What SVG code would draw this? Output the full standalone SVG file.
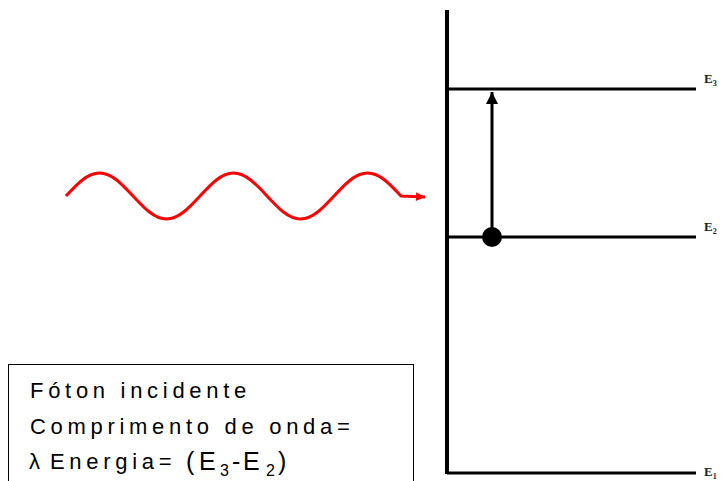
<svg xmlns="http://www.w3.org/2000/svg" width="724" height="481" viewBox="0 0 724 481">
<defs>
<style>
.ax{stroke:#000;stroke-width:4;fill:none}
.lvl{stroke:#000;stroke-width:3;fill:none}
.lbl{font-family:"Liberation Serif",serif;font-weight:bold;font-size:13px;fill:#222}
.sub{font-size:8px}
.txt{font-family:"Liberation Sans",Arial,sans-serif;font-size:22px;letter-spacing:4.7px;fill:#000}
.big{font-family:"Liberation Sans",Arial,sans-serif;font-size:25px;fill:#000}
.sm{font-family:"Liberation Sans",Arial,sans-serif;font-size:16px;fill:#000}
</style>
<marker id="ah" viewBox="0 0 10 10" refX="10" refY="5" markerWidth="4" markerHeight="4" orient="auto" markerUnits="strokeWidth"><path d="M0,0 L10,5 L0,10 z" fill="#000"/></marker>
<marker id="rh" viewBox="0 0 10 10" refX="10" refY="5" markerWidth="3.5" markerHeight="3" orient="auto" markerUnits="strokeWidth"><path d="M0,0 L10,5 L0,10 z" fill="#f00"/></marker>
</defs>
<rect width="724" height="481" fill="#fff"/>
<g id="axis">
<line class="ax" x1="447" y1="10" x2="447" y2="474"/>
</g>
<g id="level-E3">
<line class="lvl" x1="447" y1="89" x2="696" y2="89"/>
<text class="lbl" x="704" y="83">E<tspan class="sub" dy="3">3</tspan></text>
</g>
<g id="level-E2">
<line class="lvl" x1="447" y1="237" x2="696" y2="237"/>
<text class="lbl" x="704" y="231">E<tspan class="sub" dy="3">2</tspan></text>
</g>
<g id="level-E1">
<line class="lvl" x1="447" y1="473" x2="696" y2="473"/>
<text class="lbl" x="704" y="476">E<tspan class="sub" dy="3">1</tspan></text>
</g>
<g id="electron">
<circle cx="492" cy="237" r="10" fill="#000"/>
</g>
<g id="connectors">
<line x1="492" y1="237" x2="492" y2="92" stroke="#000" stroke-width="3" marker-end="url(#ah)"/>
<path d="M66,196 c 11.2,-12.1 21.3,-23 33.5,-23 s 22.3,10.9 33.5,23 s 21.3,23 33.5,23 s 22.3,-10.9 33.5,-23 s 21.3,-23 33.5,-23 s 22.3,10.9 33.5,23 s 21.3,23 33.5,23 s 22.3,-10.9 33.5,-23 s 21.3,-23 33.5,-23 s 22.3,10.9 33.5,23 L 425,197" fill="none" stroke="#f00" stroke-width="3" stroke-linejoin="round" marker-end="url(#rh)"/>
</g>
<g id="caption">
<rect x="8.5" y="364.5" width="405" height="130" fill="none" stroke="#000" stroke-width="1"/>
<text class="txt" x="30" y="398">Fóton incidente</text>
<text class="txt" x="30" y="434">Comprimento de onda=</text>
<text class="txt" x="29" y="469">λ</text>
<text class="txt" x="50" y="469">Energia=</text>
<text class="big" x="186" y="470">(</text>
<text class="big" x="199" y="470">E</text>
<text class="sm" x="220" y="476">3</text>
<text class="big" x="232" y="470">-</text>
<text class="big" x="243" y="470">E</text>
<text class="sm" x="266" y="476">2</text>
<text class="big" x="278" y="470">)</text>
</g>
</svg>
